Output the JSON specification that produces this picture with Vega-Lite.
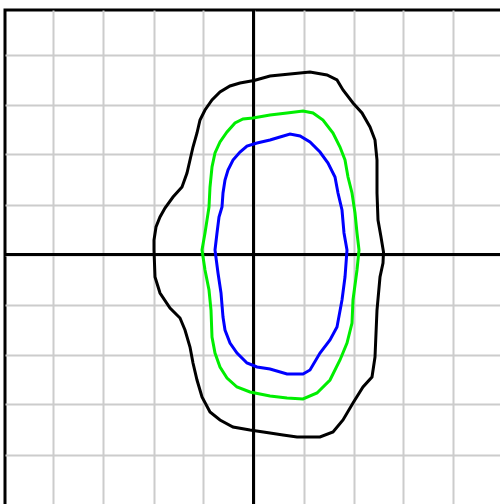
{
  "$schema": "https://vega.github.io/schema/vega-lite/v6.json",
  "autosize": "none",
  "width": 500,
  "height": 500,
  "padding": {"left": 5, "top": 10, "right": 0, "bottom": 0},
  "background": "white",
  "config": {
    "view": {"stroke": "black", "strokeWidth": 3},
    "axis": {
      "labels": false, "ticks": false, "domain": false, "title": null,
      "grid": true, "gridColor": "#cccccc", "gridWidth": 2, "gridOpacity": 1
    }
  },
  "datasets": {
    "curves": [
      {"c": "black", "i": 0, "x": 0.01, "y": 3.48},
      {"c": "black", "i": 1, "x": -0.27, "y": 3.43},
      {"c": "black", "i": 2, "x": -0.47, "y": 3.37},
      {"c": "black", "i": 3, "x": -0.67, "y": 3.25},
      {"c": "black", "i": 4, "x": -0.83, "y": 3.09},
      {"c": "black", "i": 5, "x": -0.97, "y": 2.89},
      {"c": "black", "i": 6, "x": -1.07, "y": 2.69},
      {"c": "black", "i": 7, "x": -1.13, "y": 2.43},
      {"c": "black", "i": 8, "x": -1.21, "y": 2.15},
      {"c": "black", "i": 9, "x": -1.27, "y": 1.89},
      {"c": "black", "i": 10, "x": -1.33, "y": 1.63},
      {"c": "black", "i": 11, "x": -1.43, "y": 1.35},
      {"c": "black", "i": 12, "x": -1.61, "y": 1.15},
      {"c": "black", "i": 13, "x": -1.77, "y": 0.93},
      {"c": "black", "i": 14, "x": -1.87, "y": 0.75},
      {"c": "black", "i": 15, "x": -1.95, "y": 0.55},
      {"c": "black", "i": 16, "x": -1.99, "y": 0.29},
      {"c": "black", "i": 17, "x": -1.99, "y": 0.09},
      {"c": "black", "i": 18, "x": -1.97, "y": -0.45},
      {"c": "black", "i": 19, "x": -1.87, "y": -0.77},
      {"c": "black", "i": 20, "x": -1.67, "y": -1.07},
      {"c": "black", "i": 21, "x": -1.47, "y": -1.27},
      {"c": "black", "i": 22, "x": -1.37, "y": -1.51},
      {"c": "black", "i": 23, "x": -1.27, "y": -1.85},
      {"c": "black", "i": 24, "x": -1.21, "y": -2.17},
      {"c": "black", "i": 25, "x": -1.13, "y": -2.51},
      {"c": "black", "i": 26, "x": -1.03, "y": -2.85},
      {"c": "black", "i": 27, "x": -0.87, "y": -3.15},
      {"c": "black", "i": 28, "x": -0.67, "y": -3.31},
      {"c": "black", "i": 29, "x": -0.41, "y": -3.45},
      {"c": "black", "i": 30, "x": -0.07, "y": -3.51},
      {"c": "black", "i": 31, "x": 0.33, "y": -3.57},
      {"c": "black", "i": 32, "x": 0.59, "y": -3.61},
      {"c": "black", "i": 33, "x": 0.87, "y": -3.65},
      {"c": "black", "i": 34, "x": 1.33, "y": -3.65},
      {"c": "black", "i": 35, "x": 1.59, "y": -3.55},
      {"c": "black", "i": 36, "x": 1.79, "y": -3.31},
      {"c": "black", "i": 37, "x": 1.99, "y": -2.97},
      {"c": "black", "i": 38, "x": 2.19, "y": -2.65},
      {"c": "black", "i": 39, "x": 2.37, "y": -2.45},
      {"c": "black", "i": 40, "x": 2.43, "y": -2.05},
      {"c": "black", "i": 41, "x": 2.47, "y": -1.11},
      {"c": "black", "i": 42, "x": 2.53, "y": -0.45},
      {"c": "black", "i": 43, "x": 2.59, "y": -0.17},
      {"c": "black", "i": 44, "x": 2.6, "y": 0.05},
      {"c": "black", "i": 45, "x": 2.55, "y": 0.35},
      {"c": "black", "i": 46, "x": 2.49, "y": 0.69},
      {"c": "black", "i": 47, "x": 2.47, "y": 1.23},
      {"c": "black", "i": 48, "x": 2.47, "y": 1.89},
      {"c": "black", "i": 49, "x": 2.43, "y": 2.29},
      {"c": "black", "i": 50, "x": 2.33, "y": 2.55},
      {"c": "black", "i": 51, "x": 2.17, "y": 2.83},
      {"c": "black", "i": 52, "x": 1.99, "y": 3.03},
      {"c": "black", "i": 53, "x": 1.79, "y": 3.29},
      {"c": "black", "i": 54, "x": 1.67, "y": 3.49},
      {"c": "black", "i": 55, "x": 1.47, "y": 3.59},
      {"c": "black", "i": 56, "x": 1.13, "y": 3.65},
      {"c": "black", "i": 57, "x": 0.73, "y": 3.61},
      {"c": "black", "i": 58, "x": 0.33, "y": 3.57},
      {"c": "black", "i": 59, "x": 0.01, "y": 3.48},

      {"c": "green", "i": 0, "x": -0.01, "y": 2.73},
      {"c": "green", "i": 1, "x": -0.21, "y": 2.71},
      {"c": "green", "i": 2, "x": -0.37, "y": 2.63},
      {"c": "green", "i": 3, "x": -0.53, "y": 2.45},
      {"c": "green", "i": 4, "x": -0.67, "y": 2.25},
      {"c": "green", "i": 5, "x": -0.77, "y": 2.03},
      {"c": "green", "i": 6, "x": -0.83, "y": 1.75},
      {"c": "green", "i": 7, "x": -0.87, "y": 1.35},
      {"c": "green", "i": 8, "x": -0.89, "y": 0.95},
      {"c": "green", "i": 9, "x": -0.93, "y": 0.69},
      {"c": "green", "i": 10, "x": -0.97, "y": 0.43},
      {"c": "green", "i": 11, "x": -1.03, "y": 0.09},
      {"c": "green", "i": 12, "x": -0.97, "y": -0.31},
      {"c": "green", "i": 13, "x": -0.89, "y": -0.71},
      {"c": "green", "i": 14, "x": -0.85, "y": -1.11},
      {"c": "green", "i": 15, "x": -0.83, "y": -1.65},
      {"c": "green", "i": 16, "x": -0.77, "y": -1.97},
      {"c": "green", "i": 17, "x": -0.67, "y": -2.25},
      {"c": "green", "i": 18, "x": -0.53, "y": -2.47},
      {"c": "green", "i": 19, "x": -0.33, "y": -2.65},
      {"c": "green", "i": 20, "x": -0.07, "y": -2.75},
      {"c": "green", "i": 21, "x": 0.33, "y": -2.83},
      {"c": "green", "i": 22, "x": 0.67, "y": -2.87},
      {"c": "green", "i": 23, "x": 0.99, "y": -2.89},
      {"c": "green", "i": 24, "x": 1.27, "y": -2.77},
      {"c": "green", "i": 25, "x": 1.53, "y": -2.51},
      {"c": "green", "i": 26, "x": 1.73, "y": -2.11},
      {"c": "green", "i": 27, "x": 1.87, "y": -1.77},
      {"c": "green", "i": 28, "x": 1.97, "y": -1.37},
      {"c": "green", "i": 29, "x": 1.99, "y": -0.91},
      {"c": "green", "i": 30, "x": 2.07, "y": -0.31},
      {"c": "green", "i": 31, "x": 2.11, "y": 0.09},
      {"c": "green", "i": 32, "x": 2.07, "y": 0.43},
      {"c": "green", "i": 33, "x": 2.03, "y": 0.83},
      {"c": "green", "i": 34, "x": 1.97, "y": 1.23},
      {"c": "green", "i": 35, "x": 1.89, "y": 1.55},
      {"c": "green", "i": 36, "x": 1.83, "y": 1.89},
      {"c": "green", "i": 37, "x": 1.73, "y": 2.15},
      {"c": "green", "i": 38, "x": 1.59, "y": 2.43},
      {"c": "green", "i": 39, "x": 1.39, "y": 2.69},
      {"c": "green", "i": 40, "x": 1.19, "y": 2.83},
      {"c": "green", "i": 41, "x": 0.99, "y": 2.87},
      {"c": "green", "i": 42, "x": 0.67, "y": 2.83},
      {"c": "green", "i": 43, "x": 0.33, "y": 2.79},
      {"c": "green", "i": 44, "x": -0.01, "y": 2.73},

      {"c": "blue", "i": 0, "x": 0.07, "y": 2.23},
      {"c": "blue", "i": 1, "x": -0.13, "y": 2.17},
      {"c": "blue", "i": 2, "x": -0.27, "y": 2.05},
      {"c": "blue", "i": 3, "x": -0.41, "y": 1.89},
      {"c": "blue", "i": 4, "x": -0.51, "y": 1.69},
      {"c": "blue", "i": 5, "x": -0.57, "y": 1.49},
      {"c": "blue", "i": 6, "x": -0.61, "y": 1.23},
      {"c": "blue", "i": 7, "x": -0.63, "y": 0.95},
      {"c": "blue", "i": 8, "x": -0.69, "y": 0.75},
      {"c": "blue", "i": 9, "x": -0.73, "y": 0.43},
      {"c": "blue", "i": 10, "x": -0.77, "y": 0.09},
      {"c": "blue", "i": 11, "x": -0.71, "y": -0.37},
      {"c": "blue", "i": 12, "x": -0.65, "y": -0.77},
      {"c": "blue", "i": 13, "x": -0.61, "y": -1.25},
      {"c": "blue", "i": 14, "x": -0.57, "y": -1.51},
      {"c": "blue", "i": 15, "x": -0.47, "y": -1.77},
      {"c": "blue", "i": 16, "x": -0.33, "y": -1.97},
      {"c": "blue", "i": 17, "x": -0.13, "y": -2.17},
      {"c": "blue", "i": 18, "x": 0.07, "y": -2.25},
      {"c": "blue", "i": 19, "x": 0.33, "y": -2.29},
      {"c": "blue", "i": 20, "x": 0.67, "y": -2.39},
      {"c": "blue", "i": 21, "x": 0.99, "y": -2.39},
      {"c": "blue", "i": 22, "x": 1.13, "y": -2.31},
      {"c": "blue", "i": 23, "x": 1.33, "y": -1.97},
      {"c": "blue", "i": 24, "x": 1.53, "y": -1.71},
      {"c": "blue", "i": 25, "x": 1.67, "y": -1.45},
      {"c": "blue", "i": 26, "x": 1.77, "y": -0.91},
      {"c": "blue", "i": 27, "x": 1.83, "y": -0.45},
      {"c": "blue", "i": 28, "x": 1.87, "y": 0.09},
      {"c": "blue", "i": 29, "x": 1.81, "y": 0.43},
      {"c": "blue", "i": 30, "x": 1.77, "y": 0.89},
      {"c": "blue", "i": 31, "x": 1.69, "y": 1.23},
      {"c": "blue", "i": 32, "x": 1.63, "y": 1.55},
      {"c": "blue", "i": 33, "x": 1.49, "y": 1.83},
      {"c": "blue", "i": 34, "x": 1.33, "y": 2.05},
      {"c": "blue", "i": 35, "x": 1.13, "y": 2.25},
      {"c": "blue", "i": 36, "x": 0.93, "y": 2.37},
      {"c": "blue", "i": 37, "x": 0.73, "y": 2.41},
      {"c": "blue", "i": 38, "x": 0.53, "y": 2.35},
      {"c": "blue", "i": 39, "x": 0.33, "y": 2.29},
      {"c": "blue", "i": 40, "x": 0.07, "y": 2.23}
    ]
  },
  "layer": [
    {
      "data": {"values": [{"v": 0}]},
      "mark": {"type": "rule", "color": "black", "strokeWidth": 3},
      "encoding": {
        "x": {"field": "v", "type": "quantitative", "scale": {"domain": [-4.97, 5.03], "nice": false, "zero": false}, "axis": {"values": [-4, -3, -2, -1, 0, 1, 2, 3, 4, 5]}}
      }
    },
    {
      "data": {"values": [{"v": 0}]},
      "mark": {"type": "rule", "color": "black", "strokeWidth": 3},
      "encoding": {
        "y": {"field": "v", "type": "quantitative", "scale": {"domain": [-5.11, 4.89], "nice": false, "zero": false}, "axis": {"values": [-5, -4, -3, -2, -1, 0, 1, 2, 3, 4]}}
      }
    },
    {
      "data": {"name": "curves"},
      "mark": {"type": "line", "strokeWidth": 3, "interpolate": "linear"},
      "encoding": {
        "x": {"field": "x", "type": "quantitative"},
        "y": {"field": "y", "type": "quantitative"},
        "order": {"field": "i", "type": "quantitative"},
        "color": {"field": "c", "type": "nominal", "legend": null,
          "scale": {"domain": ["black", "green", "blue"], "range": ["#000000", "#00ee00", "#0000ff"]}}
      }
    }
  ]
}
